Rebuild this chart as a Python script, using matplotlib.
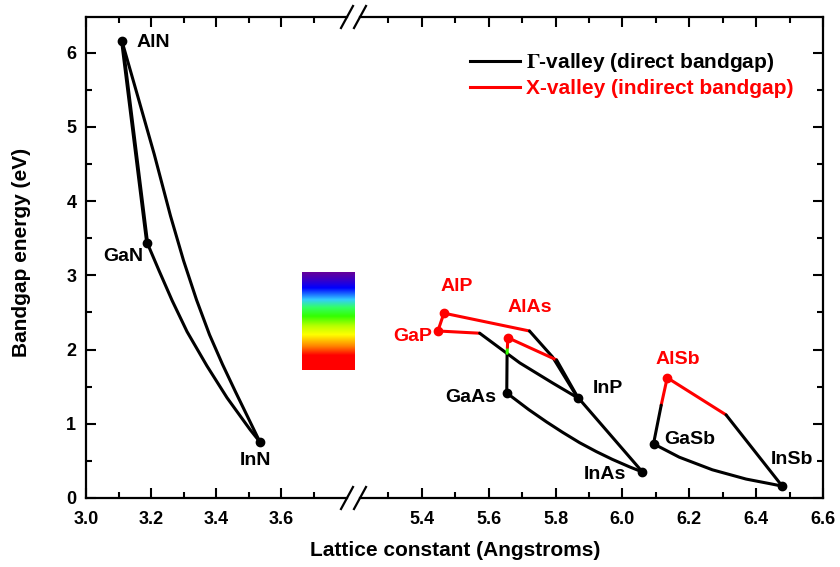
import matplotlib
matplotlib.use('Agg')
import matplotlib.pyplot as plt
from matplotlib.lines import Line2D
from matplotlib.colors import LinearSegmentedColormap
import numpy as np

plt.rcParams['font.family'] = ['Liberation Sans', 'DejaVu Sans']
plt.rcParams['mathtext.fontset'] = 'stix'
plt.rcParams['font.weight'] = 'bold'

# ---------------- data ----------------
# binary compounds: lattice constant (Angstrom), bandgap (eV)
compounds = ['AlN', 'GaN', 'InN', 'AlP', 'GaP', 'AlAs', 'GaAs', 'InP', 'InAs', 'AlSb', 'GaSb', 'InSb']
lattice_const = [3.111, 3.188, 3.535, 5.466, 5.448, 5.657, 5.654, 5.866, 6.060, 6.134, 6.093, 6.478]
bandgap_ev = [6.15, 3.44, 0.755, 2.49, 2.25, 2.16, 1.415, 1.35, 0.35, 1.62, 0.73, 0.16]
is_indirect = [False, False, False, True, True, True, False, False, False, True, False, False]

# ternary alloy curves (nitrides)
algan_x = [3.111, 3.188]
algan_y = [6.15, 3.44]
alinn_x = [3.111, 3.160, 3.210, 3.260, 3.300, 3.340, 3.380, 3.420, 3.460, 3.500, 3.535]
alinn_y = [6.15, 5.40, 4.63, 3.80, 3.20, 2.67, 2.20, 1.80, 1.43, 1.07, 0.755]
gainn_x = [3.188, 3.225, 3.265, 3.311, 3.372, 3.434, 3.505, 3.535]
gainn_y = [3.44, 3.06, 2.66, 2.24, 1.78, 1.35, 0.92, 0.755]

# phosphides / arsenides / antimonides: X-valley (red) and Gamma-valley (black) parts
algap_x_X = [5.466, 5.448]
algap_y_X = [2.49, 2.25]
alinp_x_X = [5.466, 5.722]
alinp_y_X = [2.49, 2.25]
alinp_x_G = [5.722, 5.791, 5.866]
alinp_y_G = [2.25, 1.90, 1.35]
gainp_x_X = [5.448, 5.573]
gainp_y_X = [2.25, 2.22]
gainp_x_G = [5.573, 5.693, 5.791, 5.866]
gainp_y_G = [2.22, 1.82, 1.55, 1.35]
algaas_x_G = [5.654, 5.655]
algaas_y_G = [1.415, 1.95]
algaas_x_L = [5.655, 5.656]
algaas_y_L = [1.95, 2.03]
algaas_x_X = [5.656, 5.657]
algaas_y_X = [2.03, 2.16]
alinas_x_X = [5.657, 5.803]
alinas_y_X = [2.16, 1.86]
alinas_x_G = [5.803, 5.866, 6.060]
alinas_y_G = [1.86, 1.36, 0.35]
gainas_x = [5.654, 5.720, 5.773, 5.821, 5.872, 5.922, 5.970, 6.021, 6.060]
gainas_y = [1.415, 1.19, 1.025, 0.885, 0.745, 0.625, 0.52, 0.42, 0.35]
algasb_x_X = [6.134, 6.116]
algasb_y_X = [1.62, 1.25]
algasb_x_G = [6.116, 6.093]
algasb_y_G = [1.25, 0.73]
alinsb_x_X = [6.134, 6.310]
alinsb_y_X = [1.62, 1.12]
alinsb_x_G = [6.310, 6.478]
alinsb_y_G = [1.12, 0.16]
gainsb_x = [6.093, 6.170, 6.269, 6.370, 6.439, 6.478]
gainsb_y = [0.73, 0.55, 0.38, 0.255, 0.195, 0.16]

# visible spectrum band (eV)
visible_range_ev = [1.72, 3.04]

# tick values
left_xticks = [3.0, 3.2, 3.4, 3.6]
right_xticks = [5.4, 5.6, 5.8, 6.0, 6.2, 6.4, 6.6]
yticks = [0, 1, 2, 3, 4, 5, 6]

# ---------------- figure ----------------
W, H = 840, 567
fig = plt.figure(figsize=(W / 100, H / 100), dpi=100)
ax_bottom, ax_top = 498, 17
left_l, left_r = 86, 347
right_l, right_r = 360, 823
axL = fig.add_axes([left_l / W, 1 - ax_bottom / H, (left_r - left_l) / W, (ax_bottom - ax_top) / H])
axR = fig.add_axes([right_l / W, 1 - ax_bottom / H, (right_r - right_l) / W, (ax_bottom - ax_top) / H])

BLK = '#000000'
RED = '#ff0000'
GRN = '#33ff00'
LW = 2.2

# nitrides
axL.plot(algan_x, algan_y, color=BLK, lw=LW + 0.6, solid_capstyle='round')
axL.plot(alinn_x, alinn_y, color=BLK, lw=LW, solid_capstyle='round', solid_joinstyle='round')
axL.plot(gainn_x, gainn_y, color=BLK, lw=LW, solid_capstyle='round', solid_joinstyle='round')

# others
segs = [
    (algap_x_X, algap_y_X, RED), (alinp_x_X, alinp_y_X, RED), (alinp_x_G, alinp_y_G, BLK),
    (gainp_x_X, gainp_y_X, RED), (gainp_x_G, gainp_y_G, BLK),
    (algaas_x_G, algaas_y_G, BLK), (algaas_x_L, algaas_y_L, GRN), (algaas_x_X, algaas_y_X, RED),
    (alinas_x_X, alinas_y_X, RED), (alinas_x_G, alinas_y_G, BLK),
    (gainas_x, gainas_y, BLK),
    (algasb_x_X, algasb_y_X, RED), (algasb_x_G, algasb_y_G, BLK),
    (alinsb_x_X, alinsb_y_X, RED), (alinsb_x_G, alinsb_y_G, BLK),
    (gainsb_x, gainsb_y, BLK),
]
for xs, ys, c in segs:
    axR.plot(xs, ys, color=c, lw=LW, solid_capstyle='round', solid_joinstyle='round')

# binary points
for name, a, e, ind in zip(compounds, lattice_const, bandgap_ev, is_indirect):
    ax = axL if a < 4 else axR
    c = RED if ind else BLK
    ax.plot([a], [e], 'o', color=c, ms=6, zorder=5)

# labels
lab_fs = 14
label_pos = {
    'AlN': (3.155, 6.14, 'left', BLK, axL),
    'GaN': (3.178, 3.25, 'right', BLK, axL),
    'InN': (3.522, 0.50, 'center', BLK, axL),
    'AlP': (5.504, 2.85, 'center', RED, axR),
    'AlAs': (5.722, 2.56, 'center', RED, axR),
    'GaP': (5.373, 2.17, 'center', RED, axR),
    'GaAs': (5.546, 1.36, 'center', BLK, axR),
    'InP': (5.955, 1.47, 'center', BLK, axR),
    'InAs': (5.949, 0.31, 'center', BLK, axR),
    'AlSb': (6.167, 1.86, 'center', RED, axR),
    'GaSb': (6.200, 0.79, 'center', BLK, axR),
    'InSb': (6.507, 0.52, 'center', BLK, axR),
}
for name, (x, y, ha, c, ax) in label_pos.items():
    ax.text(x, y, name, color=c, fontsize=lab_fs, fontweight='bold', ha=ha, va='center')

# visible spectrum rectangle
spec_cmap = LinearSegmentedColormap.from_list('spec', [
    (0.0, '#ff0000'), (0.15, '#ff0000'), (0.24, '#ff8000'), (0.36, '#ffff00'),
    (0.45, '#b8ff00'), (0.55, '#33ff00'), (0.64, '#33ff66'), (0.72, '#33ccff'),
    (0.84, '#0000ff'), (0.93, '#4000c0'), (1.0, '#66009a')])
grad = np.linspace(0, 1, 256).reshape(-1, 1)
im = axL.imshow(grad, cmap=spec_cmap, origin='lower', aspect='auto',
                extent=(3.665, 3.828, visible_range_ev[0], visible_range_ev[1]), zorder=1)
im.set_clip_on(False)
axL.set_xlim(3.0, 3.803)
axR.set_xlim(5.215, 6.6)
for ax in (axL, axR):
    ax.set_ylim(0, 6.48)

# ticks and spines
for ax in (axL, axR):
    for s in ax.spines.values():
        s.set_linewidth(1.6)
    ax.tick_params(which='both', direction='in', width=1.5, top=True)
    ax.tick_params(which='major', length=7)
    ax.tick_params(which='minor', length=4)
    ax.set_yticks(yticks)
    ax.set_yticks(np.arange(0.5, 6.5, 1.0), minor=True)

axL.set_xticks(left_xticks)
axL.set_xticks([3.1, 3.3, 3.5, 3.7], minor=True)
axR.set_xticks(right_xticks)
axR.set_xticks([5.3, 5.5, 5.7, 5.9, 6.1, 6.3, 6.5], minor=True)
axL.spines['right'].set_visible(False)
axR.spines['left'].set_visible(False)
axL.tick_params(which='both', right=False)
axR.tick_params(which='both', left=False, labelleft=False, right=True)
for ax in (axL, axR):
    ax.tick_params(axis='x', which='major', labelsize=13, pad=9)
    ax.tick_params(axis='y', which='major', labelsize=13, pad=7)
axL.set_xticklabels(['%.1f' % v for v in left_xticks], fontweight='bold')
axR.set_xticklabels(['%.1f' % v for v in right_xticks], fontweight='bold')
axL.set_yticklabels([str(v) for v in yticks], fontweight='bold')

# break marks
for xc in (left_r, right_l):
    for yc in (ax_bottom, ax_top):
        fig.add_artist(Line2D([(xc - 6) / W, (xc + 6) / W], [1 - (yc + 11) / H, 1 - (yc - 11) / H],
                              transform=fig.transFigure, color=BLK, lw=1.6, clip_on=False))

# axis labels
fig.text(22 / W, 1 - 252 / H, 'Bandgap energy (eV)', rotation=90, fontsize=15,
         fontweight='bold', ha='center', va='center')
fig.text(455 / W, 1 - 551 / H, 'Lattice constant (Angstroms)', fontsize=15,
         fontweight='bold', ha='center', va='center')

# legend
handles = [Line2D([], [], color=BLK, lw=LW), Line2D([], [], color=RED, lw=LW)]
leg = fig.legend(handles, [r'$\Gamma$-valley (direct bandgap)', 'X-valley (indirect bandgap)'],
                 loc='upper left', bbox_to_anchor=(470 / W, 1 - 51 / H), frameon=False,
                 borderpad=0, borderaxespad=0, handlelength=2.4, handletextpad=0.3,
                 labelspacing=0.25, prop={'size': 15, 'weight': 'bold'})
for t, c in zip(leg.get_texts(), [BLK, RED]):
    t.set_color(c)

fig.savefig('out.png', dpi=100)
